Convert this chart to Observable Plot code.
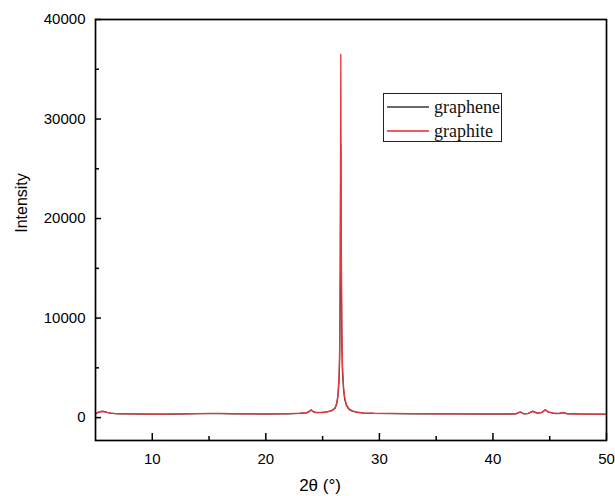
<!DOCTYPE html>
<html>
<head>
<meta charset="utf-8">
<script src="https://cdn.jsdelivr.net/npm/d3@7"></script>
<script src="https://cdn.jsdelivr.net/npm/@observablehq/plot@0.6"></script>
<style>
  body { margin: 0; background: #fff; }
  #wrap { position: relative; width: 615px; height: 496px; }
  #legend {
    position: absolute; left: 383px; top: 93px; width: 119px; height: 49px;
    border: 1.5px solid #222; box-sizing: border-box; background: #fff;
    font-family: "Liberation Serif", "Times New Roman", serif; font-size: 18px; color: #111;
  }
  .row { position: absolute; left: 3px; display: flex; align-items: center; height: 22px; }
  .sw { display: inline-block; width: 42px; height: 2px; margin-right: 5px; }
</style>
</head>
<body>
<div id="wrap">
  <div id="chart"></div>
  <div id="legend"></div>
</div>
<script>
const seriesNames = ["graphene", "graphite"];
const seriesColors = ["#3c3c3c", "#e8363b"];
const legendColors = ["#6a6a6a", "#ee5a5e"];
const xTitle = "2θ (°)";
const yTitle = "Intensity";
const xMajor = [10, 20, 30, 40, 50];
const xMinor = [15, 25, 35, 45];
const yMajor = [0, 10000, 20000, 30000, 40000];
const yMinor = [5000, 15000, 25000, 35000];

const angle = [5.0,5.2,5.4,5.6,5.8,6.0,6.3,6.7,7.0,7.5,8,9,10,11,12,13,14,15,16,17,18,19,20,21,22,23,23.6,23.85,24.0,24.15,24.4,24.8,25.2,25.6,25.9,26.1,26.25,26.35,26.45,26.5,26.55,26.6,26.65,26.7,26.75,26.85,26.95,27.1,27.3,27.6,28.0,28.6,29.5,31,33,35,37,39,41,42.0,42.4,42.7,43.1,43.5,43.9,44.3,44.6,44.9,45.3,45.8,46.2,46.5,47,48,49,50];
const graphene = [370,500,580,620,590,520,450,410,390,380,370,360,350,350,360,380,400,410,400,390,370,370,360,370,390,430,480,620,760,600,500,500,540,620,760,950,1400,2100,3700,5800,12000,27500,13500,7000,4500,2700,1800,1200,850,650,540,460,420,400,390,380,370,360,360,370,560,390,410,620,450,500,760,540,440,410,500,390,370,350,340,330];
const graphite = [380,520,600,640,600,530,460,420,400,390,380,370,360,360,370,390,410,430,420,400,390,380,380,390,410,450,500,650,800,620,520,520,560,640,780,1000,1500,2300,4200,7000,15000,36500,17000,8500,5200,3000,2000,1300,900,680,560,480,440,420,400,390,380,370,370,380,580,400,420,650,470,520,800,560,450,420,520,400,380,360,350,340];

const rows = [];
seriesNames.forEach((name, s) => {
  const vals = s === 0 ? graphene : graphite;
  angle.forEach((a, i) => rows.push({series: name, a, v: vals[i]}));
});

const font = "'Liberation Sans', Arial, sans-serif";
const plot = Plot.plot({
  width: 615, height: 496,
  marginLeft: 95, marginRight: 9, marginTop: 19, marginBottom: 56,
  x: {domain: [5, 50]},
  y: {domain: [-2300, 40000]},
  color: {domain: seriesNames, range: seriesColors},
  style: {fontFamily: font, fontSize: "15px", color: "#000", background: "#fff"},
  marks: [
    Plot.line(rows, {x: "a", y: "v", z: "series", stroke: "series", strokeWidth: 1.3}),
    Plot.axisX({ticks: xMajor, tickSize: 0, tickPadding: 13, label: null, fontSize: 15}),
    Plot.axisX({ticks: xMajor, tickSize: -7, text: null, label: null, strokeWidth: 1.5}),
    Plot.axisX({ticks: xMinor, tickSize: -4, text: null, label: null, strokeWidth: 1.5}),
    Plot.axisY({ticks: yMajor, tickSize: 0, tickPadding: 10, label: null, fontSize: 15, tickFormat: d => String(d)}),
    Plot.axisY({ticks: yMajor, tickSize: -6, text: null, label: null, strokeWidth: 1.5}),
    Plot.axisY({ticks: yMinor, tickSize: -4, text: null, label: null, strokeWidth: 1.5}),
    Plot.frame({stroke: "#000", strokeWidth: 1.7}),
    Plot.text([yTitle], {text: d => d, frameAnchor: "left", textAnchor: "middle", lineAnchor: "middle", rotate: -90, dx: -74, dy: -27, fontSize: 16}),
    Plot.text([xTitle], {text: d => d, frameAnchor: "bottom", textAnchor: "middle", lineAnchor: "middle", dx: -31, dy: 45, fontSize: 17})
  ]
});
document.getElementById("chart").appendChild(plot);

const legend = document.getElementById("legend");
seriesNames.forEach((name, i) => {
  const row = document.createElement("div");
  row.className = "row";
  row.style.top = (i === 0 ? 2 : 26) + "px";
  row.innerHTML = `<span class="sw" style="background:${legendColors[i]}"></span><span>${name}</span>`;
  legend.appendChild(row);
});
</script>
</body>
</html>
